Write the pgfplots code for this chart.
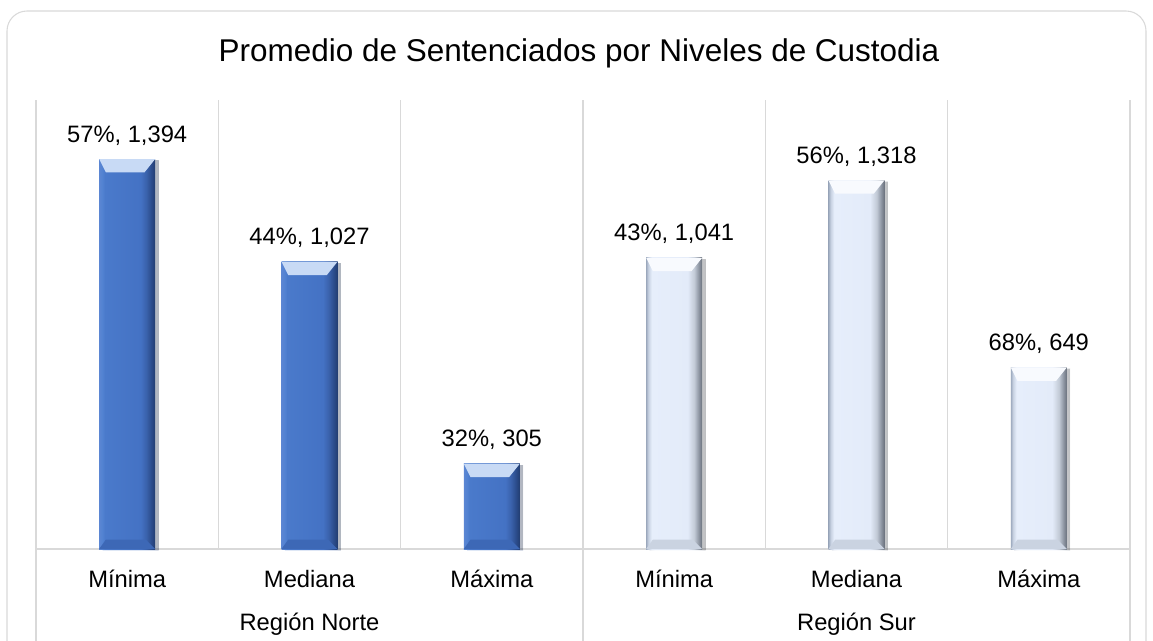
\documentclass[border=0pt]{standalone}
\usepackage{fontspec}
\setmainfont{Liberation Sans}
\usepackage{pgfplots}
\pgfplotsset{compat=1.18}
\usetikzlibrary{shadows}
\definecolor{gridc}{HTML}{D9D9D9}
\definecolor{n1}{HTML}{5B86D3}
\definecolor{n2}{HTML}{5282D1}
\definecolor{n3}{HTML}{4A7ACB}
\definecolor{n4}{HTML}{4472C4}
\definecolor{n5}{HTML}{3A62AC}
\definecolor{n6}{HTML}{2A4A88}
\definecolor{n7}{HTML}{223D70}
\definecolor{s1}{HTML}{9EABBF}
\definecolor{s2}{HTML}{C8D2E2}
\definecolor{s3}{HTML}{E6EEFB}
\definecolor{s4}{HTML}{E3EBF9}
\definecolor{s5}{HTML}{C2CAD6}
\definecolor{s6}{HTML}{8D95A2}
\definecolor{s7}{HTML}{6A717C}
\definecolor{ntop}{HTML}{C8DAF5}
\definecolor{nbot}{HTML}{3D68B6}
\definecolor{stop}{HTML}{F8FAFE}
\definecolor{sbot}{HTML}{CAD3E1}
\pgfdeclarehorizontalshading{norte}{100bp}{color(0bp)=(n1); color(25bp)=(n1); color(28bp)=(n2); color(30bp)=(n3); color(62bp)=(n4); color(67bp)=(n5); color(72bp)=(n6); color(75bp)=(n7); color(100bp)=(n7)}
\pgfdeclarehorizontalshading{sur}{100bp}{color(0bp)=(s1); color(25bp)=(s1); color(27bp)=(s2); color(30bp)=(s3); color(62bp)=(s4); color(68bp)=(s5); color(72bp)=(s6); color(75bp)=(s7); color(100bp)=(s7)}
\pgfdeclareplotmark{topbev}{%
  \pgfpathmoveto{\pgfqpoint{-21pt}{0pt}}%
  \pgfpathlineto{\pgfqpoint{21pt}{0pt}}%
  \pgfpathlineto{\pgfqpoint{13pt}{-10pt}}%
  \pgfpathlineto{\pgfqpoint{-16pt}{-10pt}}%
  \pgfpathclose\pgfusepathqfill}
\pgfdeclareplotmark{botbev}{%
  \pgfpathmoveto{\pgfqpoint{-21pt}{0pt}}%
  \pgfpathlineto{\pgfqpoint{21pt}{0pt}}%
  \pgfpathlineto{\pgfqpoint{14pt}{7pt}}%
  \pgfpathlineto{\pgfqpoint{-16pt}{7pt}}%
  \pgfpathclose\pgfusepathqfill}
\newcommand{\labfont}{\fontsize{17.8}{20}\selectfont}
\pgfplotsset{
  bevbar/.style={ybar, bar width=42pt, bar shift=0pt, draw=none, shade, shading=#1,
    drop shadow={shadow xshift=2.5pt, shadow yshift=-1pt, fill=black, opacity=0.18},
    nodes near coords, point meta=explicit symbolic,
    nodes near coords style={font=\labfont, anchor=base, yshift=12.75pt, inner sep=0pt, text=black}},
}
\begin{document}
\begin{tikzpicture}
\useasboundingbox (0,0) rectangle (864.75pt,480pt);
\draw[gridc, line width=0.8pt, rounded corners=15pt] (5.25pt,-30pt) rectangle (859.5pt,471.75pt);
\node[anchor=base, font=\fontsize{23.6}{28}\selectfont] at (434.25pt,433.5pt) {Promedio de Sentenciados por Niveles de Custodia};
\begin{axis}[
  at={(27pt,68.25pt)}, anchor=south west,
  scale only axis, width=820.5pt, height=336.75pt,
  xmin=-0.5, xmax=5.5, ymin=0, ymax=1605,
  axis x line*=bottom, axis y line=none,
  x axis line style={gridc, line width=0.8pt, -},
  xtick={0,...,5},
  xticklabels={Mínima,Mediana,Máxima,Mínima,Mediana,Máxima},
  xticklabel style={font=\labfont, anchor=base, yshift=-28.5pt, inner sep=0pt},
  minor xtick={-0.5,0.5,...,5.5},
  xminorgrids, minor x grid style={gridc, line width=0.8pt},
  major tick length=0pt, minor tick length=0pt,
  clip=false,
]
% Region Norte
\addplot[bevbar=norte] coordinates {(0,1394) [57\%, 1,394]};
\addplot[bevbar=norte] coordinates {(1,1027) [44\%, 1,027]};
\addplot[bevbar=norte] coordinates {(2,305) [32\%, 305]};
% Region Sur
\addplot[bevbar=sur] coordinates {(3,1041) [43\%, 1,041]};
\addplot[bevbar=sur] coordinates {(4,1318) [56\%, 1,318]};
\addplot[bevbar=sur] coordinates {(5,649) [68\%, 649]};
% bevels
\addplot[only marks, mark=topbev, color=ntop, mark options={fill=ntop, draw=none}]
  coordinates {(0,1394) (1,1027) (2,305)};
\addplot[only marks, mark=topbev, color=stop, mark options={fill=stop, draw=none}]
  coordinates {(3,1041) (4,1318) (5,649)};
\addplot[only marks, mark=botbev, color=nbot, mark options={fill=nbot, draw=none}]
  coordinates {(0,0) (1,0) (2,0)};
\addplot[only marks, mark=botbev, color=sbot, mark options={fill=sbot, draw=none}]
  coordinates {(3,0) (4,0) (5,0)};
\draw[gridc, line width=0.8pt] (axis cs:-0.5,0) -- ++(0pt,-80pt);
\draw[gridc, line width=0.8pt] (axis cs:2.5,0) -- ++(0pt,-80pt);
\draw[gridc, line width=0.8pt] (axis cs:5.5,0) -- ++(0pt,-80pt);
\node[anchor=base, font=\labfont, inner sep=0pt, yshift=-60.75pt] at (axis cs:1,0) {Región Norte};
\node[anchor=base, font=\labfont, inner sep=0pt, yshift=-60.75pt] at (axis cs:4,0) {Región Sur};
\end{axis}
\end{tikzpicture}
\end{document}
